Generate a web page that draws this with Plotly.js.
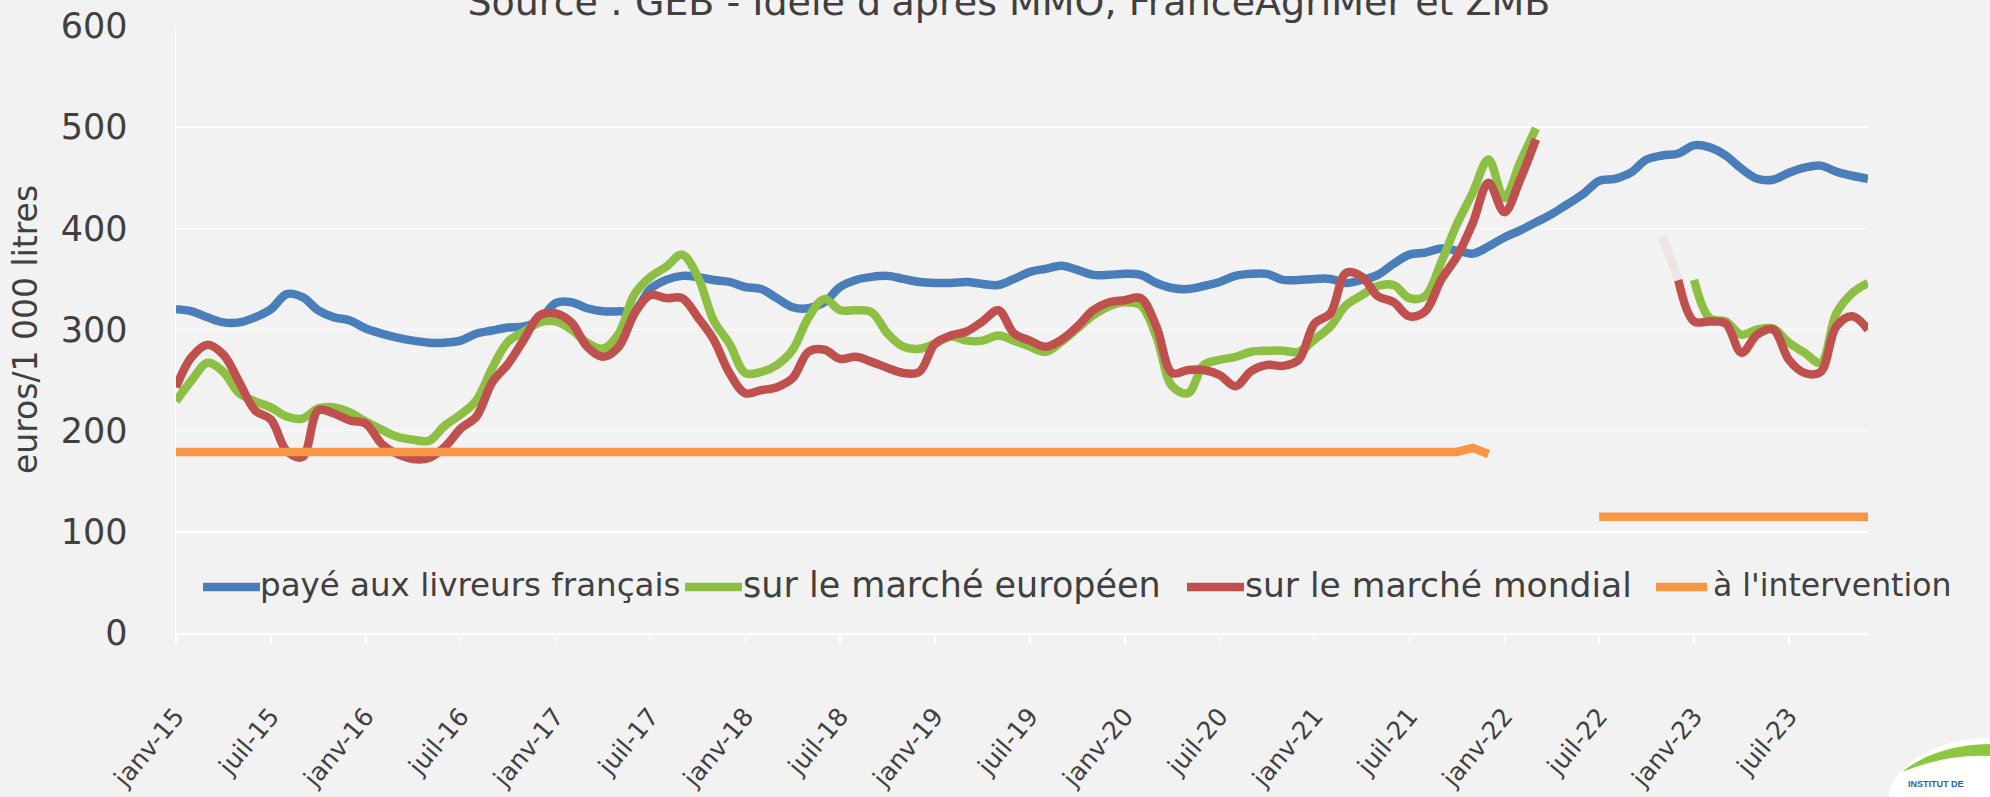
<!DOCTYPE html>
<html>
<head>
<meta charset="utf-8">
<script src="https://cdn.plot.ly/plotly-3.0.1.min.js"></script>
<style>
  html, body { margin: 0; padding: 0; background: #f2f2f2; }
  #chart { width: 1990px; height: 797px; }
</style>
</head>
<body>
<div id="chart"></div>
<script>
// ---- categories: monthly, janv-15 .. déc-23 ----
const monthNames = ['janv','févr','mars','avr','mai','juin','juil','août','sept','oct','nov','déc'];
const years = ['15','16','17','18','19','20','21','22','23'];
const months = [];
years.forEach(y => monthNames.forEach(m => months.push(m + '-' + y)));
const tickLabels = months.filter((_, i) => i % 6 === 0);

// ---- series (euros / 1 000 litres) ----
const prixFrance = [
  320,318,312,307,307,312,320,335,332,319,312,309,
  301,296,292,289,287,287,289,296,299,302,303,309,
  326,327,321,318,318,319,340,349,353,352,349,347,
  342,340,331,322,321,327,342,349,352,353,350,347,
  346,346,347,345,344,350,357,360,363,359,354,354,
  355,354,346,341,340,343,347,353,355,355,349,349,
  350,350,346,349,354,365,374,376,380,378,375,382,
  391,398,406,414,424,434,447,449,455,468,472,474,
  482,480,472,459,449,448,455,460,462,456,452,449
];
const prixEurope = [
  229,250,267,258,237,229,223,214,212,222,223,218,
  209,201,194,191,190,205,216,230,262,288,298,307,
  308,300,287,281,296,335,352,362,374,352,309,286,
  257,258,265,280,312,330,319,319,317,296,283,281,
  286,293,289,289,294,289,283,278,288,301,314,323,
  327,324,293,244,237,265,270,273,278,279,279,278,
  290,303,324,334,343,344,331,333,366,404,435,468,
  430,465,499,null,null,null,null,null,null,null,null,null,
  349,311,308,295,300,301,287,277,267,316,336,346
];
const prixMonde = [
  243,273,285,275,248,220,211,180,174,220,217,210,
  207,187,177,172,173,184,202,214,248,266,290,314,
  316,307,283,273,283,316,334,331,331,312,290,257,
  237,240,243,252,278,280,271,273,268,262,257,258,
  286,294,298,308,319,296,289,283,290,303,319,327,
  329,331,303,257,260,260,255,244,259,265,264,270,
  306,316,356,352,333,327,313,318,349,372,405,445,
  416,448,488,null,null,null,null,null,null,null,null,349,
  308,308,306,277,295,300,270,257,258,303,313,300
];
// faint (almost transparent) junction segment of the world-market series
const prixMondeTransition = [
  null,null,null,null,null,null,null,null,null,null,null,null,
  null,null,null,null,null,null,null,null,null,null,null,null,
  null,null,null,null,null,null,null,null,null,null,null,null,
  null,null,null,null,null,null,null,null,null,null,null,null,
  null,null,null,null,null,null,null,null,null,null,null,null,
  null,null,null,null,null,null,null,null,null,null,null,null,
  null,null,null,null,null,null,null,null,null,null,null,null,
  null,null,null,null,null,null,null,null,null,null,392,349,
  null,null,null,null,null,null,null,null,null,null,null,null
];
const prixIntervention = [
  179,179,179,179,179,179,179,179,179,179,179,179,
  179,179,179,179,179,179,179,179,179,179,179,179,
  179,179,179,179,179,179,179,179,179,179,179,179,
  179,179,179,179,179,179,179,179,179,179,179,179,
  179,179,179,179,179,179,179,179,179,179,179,179,
  179,179,179,179,179,179,179,179,179,179,179,179,
  179,179,179,179,179,179,179,179,179,179,183,177,
  null,null,null,null,null,null,115,115,115,115,115,115,
  115,115,115,115,115,115,115,115,115,115,115,115
];

const seriesNames = ['payé aux livreurs français','sur le marché européen','sur le marché mondial',"à l'intervention"];
const seriesColors = ['#4a7ebb','#8dbf44','#c0504d','#f79646'];
const titleText = "Source : GEB - Idele d'après MMO, FranceAgriMer et ZMB";
const yTitle = 'euros/1 000 litres';
const logoText = 'INSTITUT DE';

const FONT = 'DejaVu Sans, sans-serif';
const TXT = '#404040';
const LW = 8.5;

// page geometry (pixels) and helpers to place legend keys / logo in paper units
const W = 1990, H = 797;
const M = { l: 176, r: 122, t: 26, b: 164 };
const PW = W - M.l - M.r, PH = H - M.t - M.b;
const px = x => (x - M.l) / PW;
const py = y => (M.t + PH - y) / PH;

function lineTrace(y, name, color, opts) {
  return Object.assign({
    type: 'scatter', mode: 'lines', x: months, y: y, name: name,
    line: { color: color, width: LW, shape: 'spline', smoothing: 1 },
    connectgaps: false, showlegend: false, hoverinfo: 'x+y+name'
  }, opts || {});
}

const data = [
  lineTrace(prixFrance, seriesNames[0], seriesColors[0]),
  lineTrace(prixEurope, seriesNames[1], seriesColors[1]),
  lineTrace(prixMonde, seriesNames[2], seriesColors[2]),
  lineTrace(prixIntervention, seriesNames[3], seriesColors[3], { line: { color: seriesColors[3], width: LW, shape: 'linear' } }),
  lineTrace(prixMondeTransition, seriesNames[2], '#efe3e3')
];

// legend row (keys drawn as short lines, labels as text), as in the original
const legendY = 585;
const legendKeys = [[203, 260], [685, 742], [1187, 1244], [1656, 1707]];
const legendTextX = [258, 741, 1243, 1711];
const legendFontSize = [32.5, 35, 34.5, 31.5];
const shapes = [];
const annotations = [];
seriesNames.forEach((name, i) => {
  shapes.push({ type: 'line', xref: 'paper', yref: 'paper',
    x0: px(legendKeys[i][0]), x1: px(legendKeys[i][1]), y0: py(legendY + 2), y1: py(legendY + 2),
    line: { color: seriesColors[i], width: 8.5 } });
  annotations.push({ xref: 'paper', yref: 'paper', x: px(legendTextX[i]), y: py(legendY),
    xanchor: 'left', yanchor: 'middle', showarrow: false, text: name,
    font: { family: FONT, size: legendFontSize[i], color: TXT } });
});

// logo corner (white blob, green swoosh, text)
shapes.push({ type: 'circle', xref: 'paper', yref: 'paper', x0: px(1888), x1: px(2090), y0: py(868), y1: py(738),
  fillcolor: '#ffffff', line: { width: 0 }, layer: 'below' });
shapes.push({ type: 'path', xref: 'paper', yref: 'paper',
  path: 'M' + px(1902) + ',' + py(772) + ' Q' + px(1935) + ',' + py(745) + ' ' + px(1990) + ',' + py(744) +
        ' L' + px(1990) + ',' + py(756) + ' Q' + px(1945) + ',' + py(754) + ' ' + px(1902) + ',' + py(772) + ' Z',
  fillcolor: '#8dc63f', line: { width: 0 } });
annotations.push({ xref: 'paper', yref: 'paper', x: px(1906), y: py(784), xanchor: 'left', yanchor: 'middle',
  text: '<b>' + logoText + '</b>', showarrow: false, font: { family: 'Liberation Sans, sans-serif', size: 9, color: '#1f5fa8' } });

const layout = {
  width: W, height: H,
  paper_bgcolor: '#f2f2f2', plot_bgcolor: '#f2f2f2',
  margin: M,
  font: { family: FONT, color: TXT, size: 30 },
  title: {
    text: titleText, font: { family: FONT, size: 38, color: TXT },
    xref: 'container', x: 0.507, xanchor: 'center',
    yref: 'container', y: 0.998, yanchor: 'middle'
  },
  xaxis: {
    type: 'category', range: [0, months.length - 1],
    tickmode: 'array', tickvals: tickLabels, ticktext: tickLabels,
    tickangle: -50, tickfont: { family: FONT, size: 25, color: TXT },
    ticks: 'outside', ticklen: 9, tickcolor: '#ffffff', tickwidth: 1.5,
    ticklabelstandoff: 48,
    showgrid: false, showline: true, linecolor: '#ffffff', linewidth: 1.5,
    zeroline: false, fixedrange: true
  },
  yaxis: {
    range: [0, 600], dtick: 100, tick0: 0,
    tickfont: { family: FONT, size: 35, color: TXT },
    ticks: '', ticklabelstandoff: 40,
    showgrid: true, gridcolor: '#ffffff', gridwidth: 1.5,
    showline: true, linecolor: '#ffffff', linewidth: 1.5,
    zeroline: false,
    title: { text: yTitle, font: { family: FONT, size: 33, color: TXT }, standoff: 13 },
    fixedrange: true
  },
  shapes: shapes,
  annotations: annotations,
  showlegend: false
};

Plotly.newPlot('chart', data, layout, { displayModeBar: false, staticPlot: true });
</script>
</body>
</html>
